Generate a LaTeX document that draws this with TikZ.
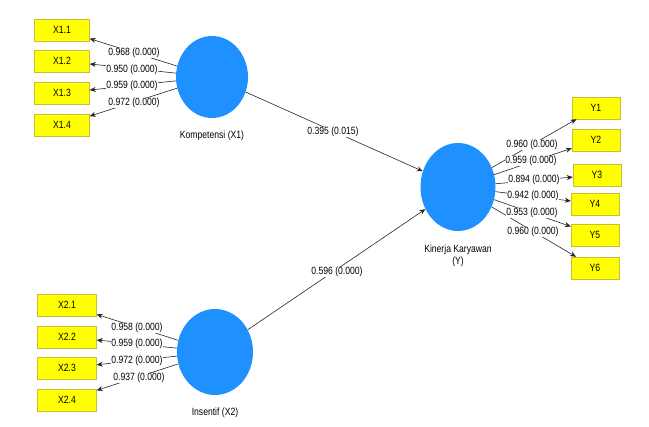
\documentclass[tikz,border=0pt]{standalone}
\usepackage{fontspec}
\setmainfont{Liberation Sans}
\newfontfamily\lblfont[FakeStretch=0.82]{Liberation Sans}
\usetikzlibrary{shapes.geometric,arrows.meta}
\definecolor{lvblue}{RGB}{30,144,255}
\definecolor{indyel}{RGB}{255,255,0}
\definecolor{indborder}{RGB}{200,190,60}
\tikzset{
  lv/.style={ellipse, fill=lvblue, draw=none, inner sep=0pt},
  ind/.style={rectangle, fill=indyel, draw=indborder, line width=0.4pt, minimum height=22pt, inner sep=0pt, font=\lblfont\fontsize{10.5}{11}\selectfont},
  lbl/.style={fill=white, inner sep=0.6pt, font=\lblfont\fontsize{10.5}{11}\selectfont},
  nm/.style={font=\lblfont\fontsize{10.5}{11.5}\selectfont, align=center},
  conn/.style={draw=black!85, line width=0.6pt, -{Stealth[length=6pt,width=5pt]}}
}
\begin{document}
\begin{tikzpicture}[x=1pt,y=-1pt]
\path[use as bounding box] (0,0) rectangle (649,427);
% latent variables
\node[lv, minimum width=72pt, minimum height=82pt] (c1) at (212,77) {};
\node[lv, minimum width=76pt, minimum height=86pt] (c2) at (215,352) {};
\node[lv, minimum width=75pt, minimum height=88pt] (cy) at (458,187) {};
\node[nm] (n1) at (212,136) {Kompetensi (X1)};
\node[nm] (n2) at (215,413) {Insentif (X2)};
\node[nm] (ny) at (458,256) {Kinerja Karyawan\\(Y)};
% indicators X1
\node[ind, minimum width=55pt] (x11) at (62,30) {X1.1};
\node[ind, minimum width=55pt] (x12) at (62,61) {X1.2};
\node[ind, minimum width=55pt] (x13) at (62,93) {X1.3};
\node[ind, minimum width=55pt] (x14) at (62,125) {X1.4};
% indicators X2
\node[ind, minimum width=59pt] (x21) at (67,305) {X2.1};
\node[ind, minimum width=59pt] (x22) at (67,337) {X2.2};
\node[ind, minimum width=59pt] (x23) at (67,368) {X2.3};
\node[ind, minimum width=59pt] (x24) at (67,400) {X2.4};
% indicators Y
\node[ind, minimum width=48pt] (y1) at (596,108) {Y1};
\node[ind, minimum width=48pt] (y2) at (596,140) {Y2};
\node[ind, minimum width=48pt] (y3) at (597,175) {Y3};
\node[ind, minimum width=48pt] (y4) at (595,204) {Y4};
\node[ind, minimum width=48pt] (y5) at (595,235) {Y5};
\node[ind, minimum width=48pt] (y6) at (595,268) {Y6};
% connectors
\draw[conn] (c1) -- (x11);
\draw[conn] (c1) -- (x12);
\draw[conn] (c1) -- (x13);
\draw[conn] (c1) -- (x14);
\draw[conn] (c2) -- (x21);
\draw[conn] (c2) -- (x22);
\draw[conn] (c2) -- (x23);
\draw[conn] (c2) -- (x24);
\draw[conn] (cy) -- (y1);
\draw[conn] (cy) -- (y2);
\draw[conn] (cy) -- (y3);
\draw[conn] (cy) -- (y4);
\draw[conn] (cy) -- (y5);
\draw[conn] (cy) -- (y6);
\draw[conn] (c1) -- (cy);
\draw[conn] (c2) -- (cy);
% loadings
\node[lbl] (l11) at (134,53) {0.968 (0.000)};
\node[lbl] (l12) at (132,70) {0.950 (0.000)};
\node[lbl] (l13) at (132,86) {0.959 (0.000)};
\node[lbl] (l14) at (134,103) {0.972 (0.000)};
\node[lbl] (l21) at (137,328) {0.958 (0.000)};
\node[lbl] (l22) at (137,344) {0.959 (0.000)};
\node[lbl] (l23) at (137,361) {0.972 (0.000)};
\node[lbl] (l24) at (139,378) {0.937 (0.000)};
\node[lbl] (ly1) at (532,145) {0.960 (0.000)};
\node[lbl] (ly2) at (531,161) {0.959 (0.000)};
\node[lbl] (ly3) at (534,180) {0.894 (0.000)};
\node[lbl] (ly4) at (533,196) {0.942 (0.000)};
\node[lbl] (ly5) at (532,213) {0.953 (0.000)};
\node[lbl] (ly6) at (533,232) {0.960 (0.000)};
\node[lbl] (p1) at (333,132) {0.395 (0.015)};
\node[lbl] (p2) at (337,272) {0.596 (0.000)};
\end{tikzpicture}
\end{document}
